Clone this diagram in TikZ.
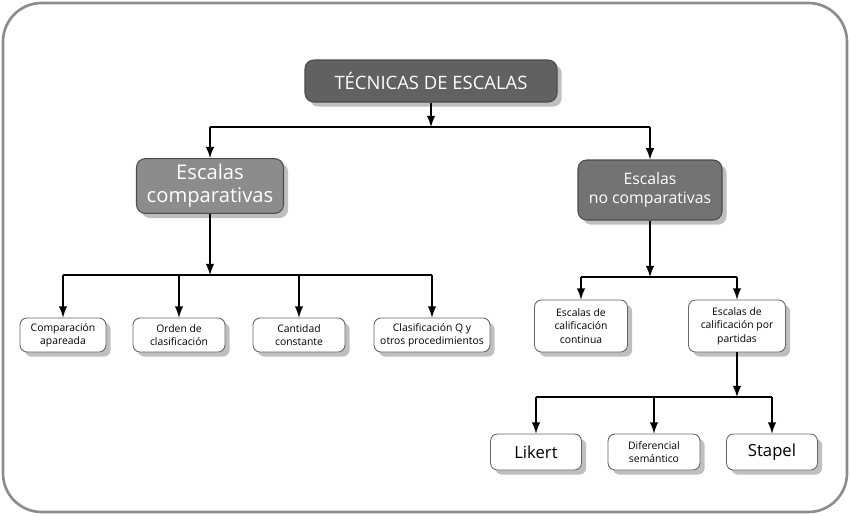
\documentclass[tikz,border=0pt]{standalone}
\usepackage{fontspec}
\setmainfont{Open Sans}
\usetikzlibrary{shadows}

\begin{document}
\begin{tikzpicture}[
                    x=0.02cm,
                    y=-0.02cm,
                    >=latex,
                    line width=1.2pt
                ]
                \tikzstyle{top}=[
                    draw=black!70,
                    fill=black!62,
                    text=white,
                    rounded corners=5pt,
                    drop shadow,
                    align=center,
                    line width=0.6pt
                ]
                \tikzstyle{leaf}=[
                    draw=black!60,
                    fill=white,
                    rounded corners=4pt,
                    drop shadow,
                    align=center,
                    line width=0.5pt,
                    font=\fontsize{5.9}{7.6}\selectfont,
                    inner sep=1pt
                ]

                \useasboundingbox (0,0) rectangle (850,515);
                \draw[black!45, line width=1.5pt, rounded corners=22pt] (3,3) rectangle (847,512);

                \node[top, minimum width=252*0.02cm, minimum height=42*0.02cm,
                      font=\fontsize{10.5}{12}\selectfont] (T) at (431,81) {TÉCNICAS DE ESCALAS};
                \node[top, fill=black!45, minimum width=147*0.02cm, minimum height=53*0.02cm,
                      font=\fontsize{11.5}{13}\selectfont] (C) at (210,186) {Escalas\\comparativas};
                \node[top, fill=black!55, minimum width=144*0.02cm, minimum height=60*0.02cm,
                      font=\fontsize{9}{11}\selectfont] (N) at (650,190) {Escalas\\no comparativas};

                \node[leaf, minimum width=86*0.02cm, minimum height=34*0.02cm] (C1) at (63,335) {Comparación\\apareada};
                \node[leaf, minimum width=92*0.02cm, minimum height=34*0.02cm] (C2) at (179,335) {Orden de\\clasificación};
                \node[leaf, minimum width=92*0.02cm, minimum height=34*0.02cm] (C3) at (299,335) {Cantidad\\constante};
                \node[leaf, minimum width=116*0.02cm, minimum height=34*0.02cm] (C4) at (432,335) {Clasificación Q y\\otros procedimientos};

                \node[leaf, minimum width=93*0.02cm, minimum height=52*0.02cm] (N1) at (581,326) {Escalas de\\calificación\\continua};
                \node[leaf, minimum width=97*0.02cm, minimum height=52*0.02cm] (N2) at (737,326) {Escalas de\\calificación por\\partidas};

                \node[leaf, minimum width=91*0.02cm, minimum height=36*0.02cm,
                      font=\fontsize{9.5}{11}\selectfont] (L1) at (536,452) {Likert};
                \node[leaf, minimum width=92*0.02cm, minimum height=36*0.02cm] (L2) at (654,452) {Diferencial\\semántico};
                \node[leaf, minimum width=91*0.02cm, minimum height=36*0.02cm,
                      font=\fontsize{9.5}{11}\selectfont] (L3) at (772,452) {Stapel};

                % top level
                \coordinate (t0) at (431,127);
                \draw[->] (T) -- (t0);
                \draw (C |- t0) -- (N |- t0);
                \draw[->] (C |- t0) -- (C);
                \draw[->] (N |- t0) -- (N);

                % comparativas
                \coordinate (c0) at (210,275);
                \draw[->] (C) -- (c0);
                \draw (C1 |- c0) -- (C4 |- c0);
                \foreach \n in {C1,C2,C3,C4}
                    \draw[->] (\n |- c0) -- (\n);

                % no comparativas
                \coordinate (n0) at (650,277);
                \draw[->] (N) -- (n0);
                \draw (N1 |- n0) -- (N2 |- n0);
                \foreach \n in {N1,N2}
                    \draw[->] (\n |- n0) -- (\n);

                % partidas
                \coordinate (p0) at (737,397);
                \draw[->] (N2) -- (p0);
                \draw (L1 |- p0) -- (L3 |- p0);
                \foreach \n in {L1,L2,L3}
                    \draw[->] (\n |- p0) -- (\n);
            \end{tikzpicture}
\end{document}
